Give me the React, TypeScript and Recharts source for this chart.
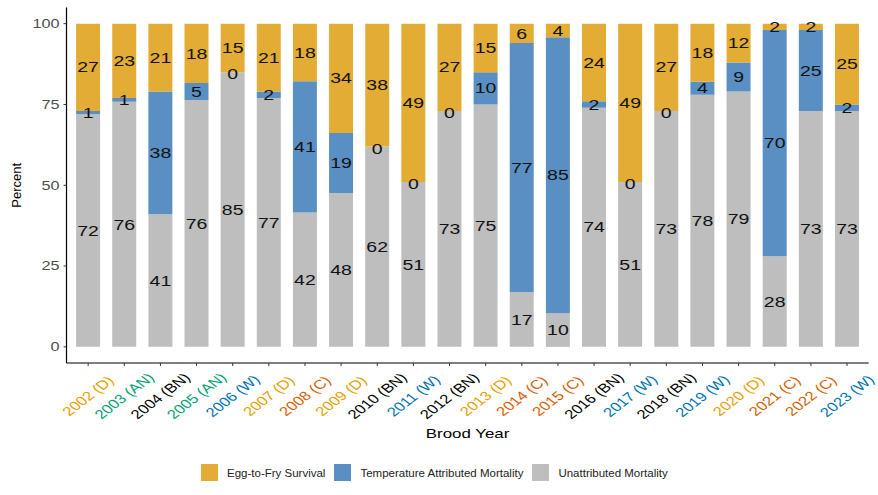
import React from "react";
import {
  BarChart,
  Bar,
  XAxis,
  YAxis,
  LabelList,
} from "recharts";

const years = [
  "2002 (D)", "2003 (AN)", "2004 (BN)", "2005 (AN)", "2006 (W)", "2007 (D)",
  "2008 (C)", "2009 (D)", "2010 (BN)", "2011 (W)", "2012 (BN)", "2013 (D)",
  "2014 (C)", "2015 (C)", "2016 (BN)", "2017 (W)", "2018 (BN)", "2019 (W)",
  "2020 (D)", "2021 (C)", "2022 (C)", "2023 (W)",
];

// percent of each brood year, estimated from the stacked bars
const unattributed = [72, 75.8, 41, 76.4, 85, 77, 41.6, 47.6, 62, 51, 73, 75, 17, 10.4, 74, 51, 73, 78, 79, 28, 73, 73];
const temperature = [1, 1.2, 38, 5.2, 0, 2, 40.6, 18.6, 0, 0, 0, 10, 77, 85.4, 2, 0, 0, 4, 9, 70, 25, 2];
const eggToFry = [27, 23, 21, 18.4, 15, 21, 17.8, 33.8, 38, 49, 27, 15, 6, 4.2, 24, 49, 27, 18, 12, 2, 2, 25];

const yTicks = [0, 25, 50, 75, 100];

const waterYearColors: Record<string, string> = {
  W: "#0072B2",
  AN: "#009E73",
  BN: "#000000",
  D: "#E69F00",
  C: "#D55E00",
};

const colors = {
  egg: "#E3AD35",
  temperature: "#5A8FC3",
  unattributed: "#BEBEBE",
};

const legendItems = [
  { label: "Egg-to-Fry Survival", color: colors.egg },
  { label: "Temperature Attributed Mortality", color: colors.temperature },
  { label: "Unattributed Mortality", color: colors.unattributed },
];

const data = years.map((year, i) => ({
  year,
  unattributed: unattributed[i],
  temperature: temperature[i],
  egg: eggToFry[i],
}));

const FONT = '"Liberation Sans", Arial, sans-serif';
const STRETCH = 1.3;

function XTick(props: any) {
  const { x, y, payload } = props;
  const label: string = payload.value;
  const type = label.slice(label.indexOf("(") + 1, label.indexOf(")"));
  return (
    <g transform={`translate(${x},${y + 30}) scale(${STRETCH},1) rotate(-45)`}>
      <text
        textAnchor="middle"
        dominantBaseline="central"
        fontSize={12.8}
        fontFamily={FONT}
        fill={waterYearColors[type]}
      >
        {label}
      </text>
    </g>
  );
}

function YTick(props: any) {
  const { x, y, payload } = props;
  return (
    <g transform={`translate(${x},${y}) scale(${STRETCH},1)`}>
      <text
        textAnchor="end"
        dominantBaseline="central"
        fontSize={12.5}
        fontFamily={FONT}
        fill="#4D4D4D"
      >
        {payload.value}
      </text>
    </g>
  );
}

function valueText(cx: number, cy: number, value: number) {
  return (
    <g transform={`translate(${cx},${cy}) scale(${STRETCH},1)`}>
      <text
        textAnchor="middle"
        dominantBaseline="central"
        fontSize={15}
        fontFamily={FONT}
        fill="#111111"
      >
        {Math.round(value)}
      </text>
    </g>
  );
}

function SegmentLabel(props: any) {
  const { x, y, width, height, value } = props;
  if (!Number(value)) return null;
  return valueText(Number(x) + Number(width) / 2, Number(y) + Number(height) / 2, Number(value));
}

// zero-height temperature segments draw no bar, so their "0" sits on the
// bottom edge of the egg-to-fry segment
function ZeroLabel(props: any) {
  const { x, y, width, height, value } = props;
  if (Number(value) !== 0) return null;
  return valueText(Number(x) + Number(width) / 2, Number(y) + Number(height) + 2, 0);
}

export default function App() {
  return (
    <div style={{ position: "absolute", left: 0, top: 0, width: 878, height: 495, background: "#fff" }}>
      <BarChart
        width={878}
        height={495}
        data={data}
        margin={{ top: 7.5, right: 9.3, left: 0, bottom: 0 }}
      >
        <XAxis
          dataKey="year"
          interval={0}
          height={132}
          padding={{ left: 3.6, right: 3.6 }}
          axisLine={{ stroke: "#000", strokeWidth: 1.2 }}
          tickLine={{ stroke: "#333" }}
          tickSize={3}
          tickMargin={0}
          tick={<XTick />}
          label={{
            content: (p: any) => {
              const vb = p.viewBox;
              return (
                <g transform={`translate(${vb.x + vb.width / 2},438) scale(${STRETCH},1)`}>
                  <text textAnchor="middle" fontSize={13} fontFamily={FONT} fill="#000">
                    Brood Year
                  </text>
                </g>
              );
            },
          }}
        />
        <YAxis
          width={66.5}
          domain={[-5, 105]}
          allowDataOverflow
          ticks={yTicks}
          axisLine={{ stroke: "#000", strokeWidth: 1.2 }}
          tickLine={{ stroke: "#333" }}
          tickSize={3}
          tickMargin={4}
          tick={<YTick />}
          label={{
            content: (p: any) => {
              const vb = p.viewBox;
              const cy = vb.y + vb.height / 2;
              return (
                <text
                  x={21}
                  y={cy}
                  transform={`rotate(-90 21 ${cy})`}
                  textAnchor="middle"
                  fontSize={13}
                  fontFamily={FONT}
                  fill="#000"
                >
                  Percent
                </text>
              );
            },
          }}
        />
        <Bar dataKey="unattributed" stackId="a" fill={colors.unattributed} barSize={24} isAnimationActive={false}>
          <LabelList dataKey="unattributed" content={<SegmentLabel />} />
        </Bar>
        <Bar dataKey="temperature" stackId="a" fill={colors.temperature} barSize={24} isAnimationActive={false}>
          <LabelList dataKey="temperature" content={<SegmentLabel />} />
        </Bar>
        <Bar dataKey="egg" stackId="a" fill={colors.egg} barSize={24} isAnimationActive={false}>
          <LabelList dataKey="egg" content={<SegmentLabel />} />
          <LabelList dataKey="temperature" content={<ZeroLabel />} />
        </Bar>
      </BarChart>
      <div
        style={{
          position: "absolute",
          top: 464,
          left: 201,
          display: "flex",
          alignItems: "center",
          fontFamily: FONT,
          fontSize: 11.5,
          color: "#222",
          whiteSpace: "nowrap",
        }}
      >
        {legendItems.map((item) => (
          <div key={item.label} style={{ display: "flex", alignItems: "center", marginRight: 9 }}>
            <span style={{ width: 17, height: 17, background: item.color, display: "inline-block", marginRight: 9 }} />
            <span>{item.label}</span>
          </div>
        ))}
      </div>
    </div>
  );
}
